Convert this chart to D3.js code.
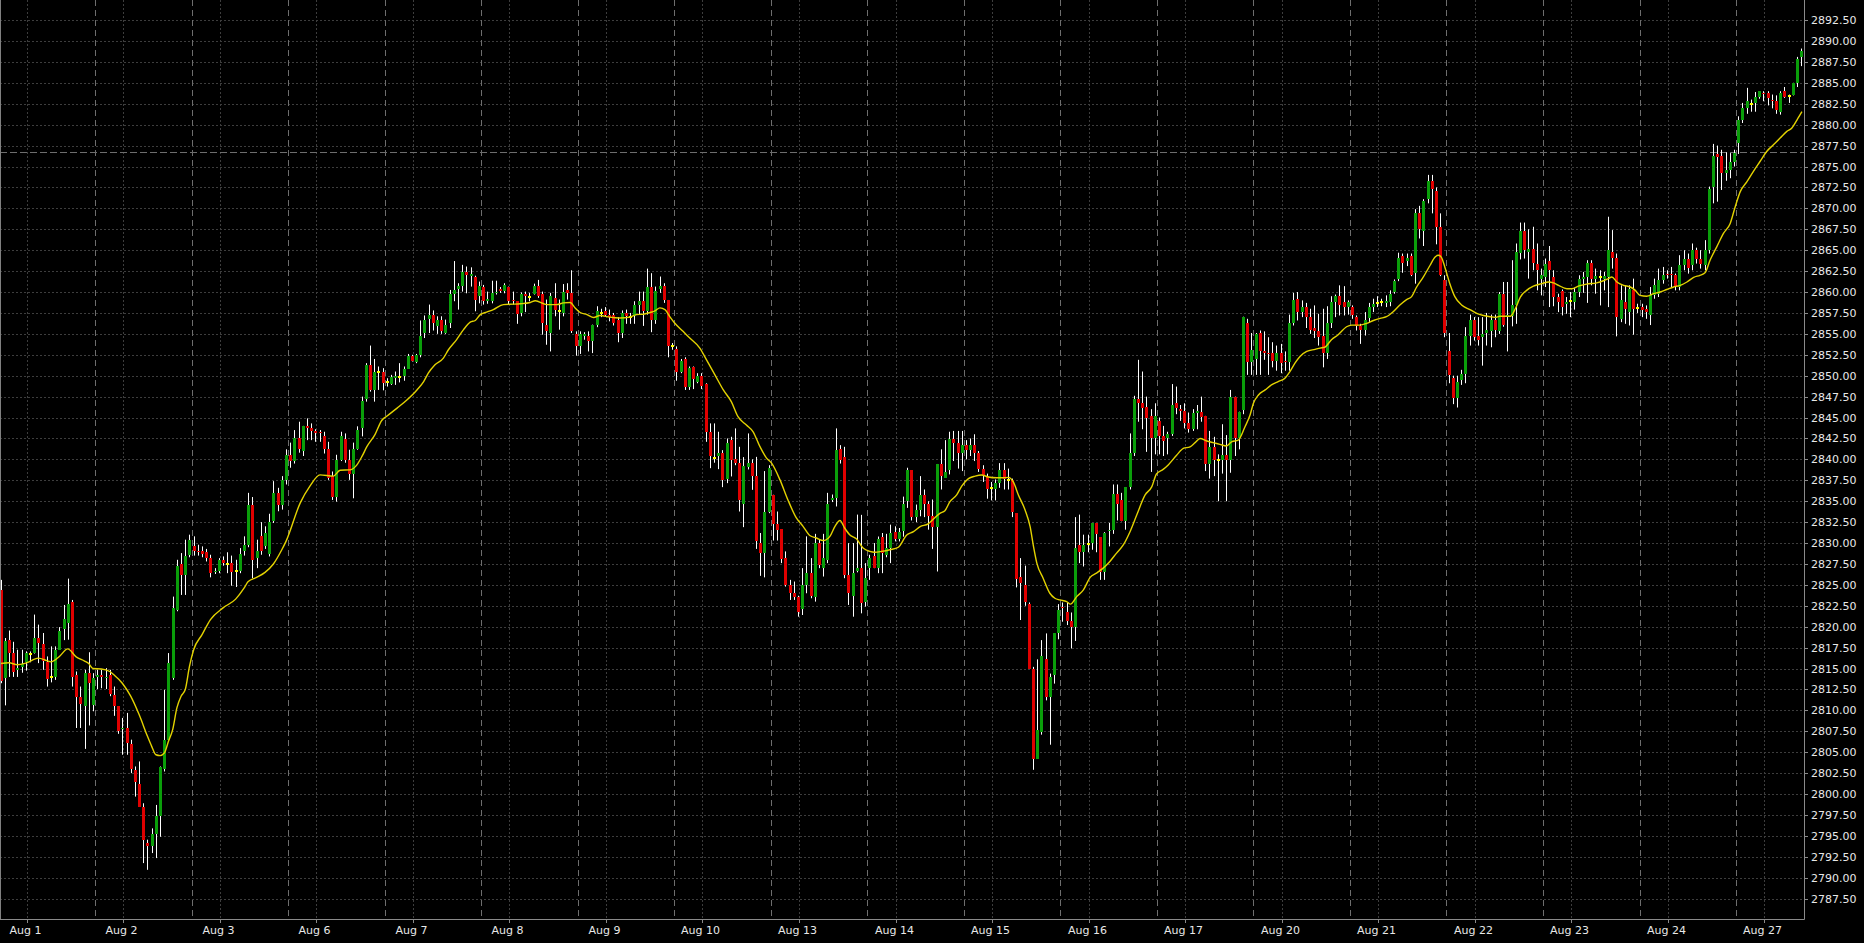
<!DOCTYPE html>
<html><head><meta charset="utf-8">
<script src="https://cdn.jsdelivr.net/npm/d3@7"></script>
<style>html,body{margin:0;padding:0;background:#000;overflow:hidden}</style>
</head><body><svg id="c" width="1864" height="943"></svg>
<script>
// ---- OHLC data (hourly bars) ----
const openP = [
2824.4,2813.9,2818.45,2816.8,2814.8,2815.2,2815.75,2816.7,2816.8,2818.7,
2817.95,2815.75,2813.95,2814.05,2817.25,2819.7,2820.45,2823.0,2814.25,2811.55,
2810.5,2814.45,2810.7,2813.95,2814.25,2813.85,2814.25,2811.8,2810.5,2807.75,
2807.9,2806.0,2802.9,2801.2,2798.45,2794.2,2793.75,2795.25,2797.4,2803.05,
2806.5,2813.85,2822.05,2827.5,2826.2,2828.6,2829.6,2829.1,2829.0,2828.9,
2828.2,2826.5,2826.7,2828.0,2827.45,2827.6,2826.6,2826.7,2829.0,2829.8,
2834.5,2828.2,2830.8,2829.6,2828.7,2832.6,2836.0,2834.5,2837.5,2840.5,
2839.8,2842.5,2841.0,2844.0,2843.7,2843.35,2843.3,2842.8,2841.2,2838.0,
2835.55,2839.95,2842.45,2839.95,2838.3,2841.2,2843.75,2847.25,2851.3,2848.3,
2850.4,2850.4,2849.2,2849.05,2849.75,2849.9,2850.0,2850.85,2852.3,2851.6,
2852.5,2855.1,2856.8,2857.3,2855.95,2856.6,2855.1,2856.35,2859.8,2860.35,
2860.75,2862.35,2861.9,2861.85,2859.55,2860.6,2858.9,2858.9,2859.85,2860.35,
2860.1,2860.6,2859.05,2858.9,2857.45,2859.75,2859.4,2859.8,2860.75,2859.8,
2856.1,2855.1,2859.3,2857.7,2857.55,2860.25,2859.85,2855.0,2853.55,2854.8,
2854.75,2854.1,2856.1,2857.5,2857.75,2857.3,2857.3,2856.7,2855.1,2857.55,
2857.0,2857.15,2858.5,2858.9,2857.7,2860.55,2856.6,2860.35,2860.75,2859.05,
2853.5,2853.2,2850.5,2852.0,2848.6,2851.0,2849.3,2850.0,2849.0,2843.3,
2840.2,2840.35,2840.75,2837.64,2842.26,2840.03,2839.55,2834.69,2839.07,2839.55,
2838.04,2830.0,2828.8,2833.77,2835.77,2832.3,2831.66,2828.2,2825.0,2824.0,
2823.54,2822.1,2825.0,2826.48,2823.54,2829.99,2827.0,2828.0,2835.17,2835.37,
2841.2,2840.27,2826.2,2823.7,2826.7,2827.0,2823.0,2827.0,2828.48,2827.0,
2830.78,2828.6,2829.39,2831.38,2830.47,2831.44,2835.07,2838.73,2833.08,2833.95,
2835.75,2834.67,2833.24,2831.96,2839.45,2837.8,2838.73,2842.4,2841.9,2840.8,
2841.7,2841.1,2841.7,2840.8,2838.9,2838.0,2836.6,2836.5,2837.2,2838.73,
2837.5,2837.5,2833.55,2825.9,2825.0,2822.7,2815.0,2804.2,2807.45,2816.1,
2811.6,2814.2,2819.2,2822.4,2821.8,2820.7,2820.0,2829.8,2828.97,2829.9,
2829.97,2832.4,2830.7,2826.5,2831.4,2831.6,2835.9,2835.1,2832.6,2836.7,
2840.8,2847.2,2846.7,2846.2,2845.2,2842.5,2844.6,2842.8,2842.5,2843.0,
2846.7,2846.0,2845.8,2844.3,2843.6,2845.6,2845.7,2845.2,2839.5,2841.5,
2839.9,2839.9,2840.5,2839.9,2847.5,2842.5,2845.9,2856.3,2851.6,2852.0,
2855.05,2853.0,2852.7,2852.7,2851.8,2852.7,2851.8,2851.6,2856.25,2859.2,
2857.6,2858.2,2857.05,2855.7,2855.3,2854.7,2852.7,2856.3,2858.8,2859.5,
2858.8,2858.2,2858.2,2857.05,2855.9,2855.45,2856.85,2858.2,2858.7,2858.75,
2858.65,2858.8,2860.0,2861.6,2864.3,2863.7,2864.3,2862.3,2869.4,2867.3,
2871.1,2873.3,2872.1,2867.8,2861.4,2852.9,2849.7,2847.3,2849.5,2850.2,
2854.7,2856.6,2854.7,2854.6,2855.05,2855.3,2856.6,2855.3,2859.8,2857.0,
2857.1,2858.4,2864.7,2867.3,2864.8,2865.2,2863.4,2861.6,2861.8,2863.7,
2861.8,2859.4,2860.1,2858.6,2858.95,2858.8,2860.0,2861.6,2861.8,2863.5,
2861.6,2861.75,2861.6,2861.8,2864.8,2864.1,2856.8,2858.8,2857.6,2860.2,
2858.1,2858.2,2858.0,2857.2,2859.6,2859.8,2861.4,2862.2,2862.2,2862.0,
2860.6,2863.2,2864.0,2863.2,2865.0,2864.0,2863.2,2865.0,2872.6,2876.5,
2876.25,2874.26,2874.58,2875.57,2877.85,2880.55,2881.95,2882.45,2882.55,2883.35,
2883.8,2883.8,2883.0,2882.86,2881.55,2884.0,2883.46,2883.5,2885.0,2888.1
];
const highP = [
2825.6,2818.65,2819.55,2818.2,2817.25,2817.25,2817.05,2817.05,2821.45,2820.25,
2819.25,2816.45,2817.65,2817.65,2819.95,2822.6,2825.75,2823.2,2814.65,2812.85,
2814.85,2816.95,2814.45,2814.85,2814.85,2815.05,2814.85,2812.85,2810.5,2809.1,
2809.7,2806.5,2803.3,2803.9,2798.9,2794.55,2795.9,2798.7,2803.3,2812.45,
2816.85,2823.6,2828.0,2828.8,2830.4,2831.0,2830.8,2829.8,2829.6,2829.3,
2828.6,2827.0,2828.2,2828.4,2828.9,2828.5,2828.0,2829.4,2830.8,2836.0,
2835.5,2830.4,2832.5,2832.0,2833.5,2837.4,2836.6,2838.0,2841.2,2842.0,
2843.5,2844.5,2844.0,2844.9,2844.3,2843.6,2843.5,2843.3,2842.1,2838.55,
2840.55,2843.3,2843.1,2841.15,2842.0,2843.95,2847.5,2851.5,2853.6,2852.0,
2851.1,2850.9,2849.7,2850.1,2850.5,2851.5,2851.1,2852.6,2852.5,2852.6,
2856.6,2857.2,2858.5,2857.8,2857.1,2857.1,2856.7,2860.25,2863.7,2861.05,
2863.25,2863.05,2862.95,2861.95,2861.25,2860.85,2860.05,2861.35,2861.35,2860.6,
2861.05,2860.65,2860.05,2858.9,2859.95,2860.05,2859.9,2861.0,2861.45,2860.05,
2859.1,2859.9,2861.05,2859.1,2860.95,2861.05,2862.6,2855.3,2855.3,2855.2,
2855.3,2856.1,2858.3,2858.0,2858.2,2857.9,2857.5,2857.0,2857.8,2857.9,
2857.5,2858.9,2860.05,2860.05,2862.8,2862.25,2860.65,2861.85,2861.05,2859.05,
2853.9,2853.5,2852.0,2852.2,2851.1,2851.1,2850.3,2850.3,2849.1,2844.3,
2844.3,2843.3,2841.1,2842.5,2842.7,2843.7,2841.5,2840.27,2843.1,2840.0,
2840.3,2831.2,2838.6,2839.3,2835.77,2833.77,2831.66,2829.0,2825.6,2825.4,
2823.7,2827.0,2830.8,2828.2,2831.1,2830.4,2831.1,2836.0,2835.8,2843.7,
2841.7,2841.5,2829.99,2830.0,2833.4,2833.37,2827.6,2828.6,2830.0,2830.78,
2831.2,2831.1,2832.2,2832.0,2831.8,2835.55,2839.0,2838.73,2834.6,2838.0,
2836.4,2835.0,2835.2,2839.45,2841.2,2842.3,2843.3,2843.4,2843.4,2843.4,
2842.3,2842.5,2843.0,2841.0,2839.3,2838.3,2837.3,2837.6,2839.55,2839.55,
2838.9,2837.7,2833.55,2828.2,2827.3,2822.9,2815.2,2816.1,2818.4,2819.2,
2814.4,2819.2,2822.7,2822.9,2822.9,2821.7,2833.1,2833.4,2831.0,2831.0,
2832.4,2832.4,2830.7,2831.3,2832.4,2837.0,2837.0,2836.0,2836.7,2843.1,
2847.6,2851.9,2850.5,2847.5,2846.0,2846.7,2845.0,2844.0,2843.3,2849.0,
2848.7,2846.5,2846.7,2845.6,2846.0,2846.5,2847.5,2845.2,2843.4,2842.7,
2840.6,2844.2,2842.9,2848.3,2847.5,2845.7,2857.05,2856.8,2855.1,2855.1,
2855.4,2855.3,2854.6,2854.0,2853.6,2853.8,2852.9,2857.3,2859.9,2860.0,
2859.0,2858.7,2858.0,2858.4,2857.4,2858.0,2858.3,2859.5,2859.7,2860.8,
2860.7,2859.0,2858.4,2857.2,2856.2,2857.6,2858.7,2859.2,2859.5,2859.2,
2859.6,2860.2,2861.5,2864.7,2864.6,2864.6,2864.6,2869.9,2870.3,2871.1,
2874.0,2874.0,2872.5,2869.4,2862.0,2855.1,2850.0,2850.0,2850.7,2855.8,
2857.3,2857.0,2857.0,2857.0,2857.5,2857.3,2857.3,2860.0,2861.2,2861.2,
2863.8,2865.8,2868.3,2868.3,2867.5,2867.8,2865.8,2862.8,2864.0,2865.5,
2862.6,2859.8,2860.3,2859.4,2860.0,2860.5,2862.0,2862.4,2863.8,2863.8,
2862.8,2862.6,2862.4,2869.0,2867.4,2864.6,2860.8,2860.8,2860.8,2861.6,
2858.6,2858.6,2858.4,2860.6,2861.6,2862.8,2863.0,2862.6,2863.0,2862.2,
2864.4,2865.0,2864.6,2865.8,2865.3,2865.0,2866.2,2872.6,2877.7,2877.5,
2877.0,2876.7,2876.6,2877.0,2881.0,2882.6,2884.4,2883.0,2883.9,2884.0,
2884.0,2884.0,2883.6,2883.5,2884.0,2884.5,2883.6,2885.0,2888.1,2889.1
];
const lowP = [
2813.25,2810.6,2814.0,2814.0,2814.0,2814.5,2814.75,2815.75,2816.8,2815.65,
2814.85,2812.85,2813.35,2813.65,2817.25,2818.4,2818.45,2812.85,2807.9,2807.9,
2805.4,2808.2,2809.9,2812.55,2812.65,2812.55,2811.7,2809.35,2807.2,2804.7,
2804.7,2802.5,2799.7,2798.5,2791.75,2790.95,2792.95,2792.35,2794.9,2802.7,
2806.5,2813.65,2821.85,2823.8,2823.8,2828.3,2828.5,2828.5,2828.3,2827.8,
2825.9,2826.3,2826.4,2827.3,2826.4,2824.9,2824.75,2826.4,2828.5,2829.5,
2825.8,2827.0,2828.6,2829.3,2828.4,2832.4,2833.8,2834.0,2837.0,2839.0,
2839.5,2840.8,2840.4,2842.3,2842.3,2842.1,2842.1,2840.7,2837.55,2835.15,
2834.95,2839.8,2839.6,2837.55,2835.35,2841.15,2842.75,2846.9,2848.1,2846.9,
2848.3,2848.25,2848.7,2848.9,2848.9,2849.2,2849.4,2850.85,2851.7,2851.5,
2852.2,2854.5,2855.1,2855.4,2855.0,2855.0,2855.0,2855.7,2858.9,2857.9,
2860.05,2859.85,2860.65,2857.7,2858.65,2858.5,2858.6,2858.65,2859.7,2859.9,
2859.85,2858.5,2858.5,2856.2,2857.1,2857.6,2858.9,2859.7,2859.3,2854.9,
2853.7,2852.9,2857.1,2855.5,2857.1,2859.1,2855.1,2852.4,2852.6,2854.3,
2852.9,2852.7,2855.8,2857.0,2857.1,2856.5,2856.0,2854.0,2854.5,2856.2,
2856.2,2856.2,2857.3,2855.95,2857.3,2855.2,2856.2,2859.9,2858.7,2852.2,
2853.1,2849.4,2850.3,2848.3,2848.3,2848.4,2849.1,2848.4,2842.1,2838.95,
2839.6,2838.83,2836.68,2837.16,2837.96,2839.3,2833.77,2831.9,2838.8,2836.36,
2829.3,2826.08,2825.9,2833.57,2830.3,2830.3,2827.6,2824.8,2823.2,2823.2,
2821.2,2821.4,2824.0,2823.4,2823.0,2827.0,2826.0,2827.6,2834.9,2834.37,
2839.5,2825.8,2822.6,2821.2,2826.5,2821.6,2822.4,2825.6,2827.0,2826.4,
2826.4,2828.3,2827.6,2830.2,2830.2,2830.76,2834.2,2832.7,2832.5,2833.2,
2833.1,2831.6,2829.3,2826.6,2836.4,2837.8,2838.2,2839.8,2838.9,2838.6,
2840.0,2840.4,2839.8,2838.5,2837.3,2835.3,2835.1,2835.1,2836.6,2836.4,
2836.4,2833.1,2824.7,2820.8,2822.5,2815.0,2802.9,2804.2,2807.1,2811.2,
2805.9,2813.2,2818.5,2820.6,2820.2,2817.4,2818.3,2827.6,2827.2,2828.9,
2829.2,2828.9,2825.6,2825.6,2829.6,2831.1,2832.7,2832.6,2831.6,2836.4,
2840.4,2844.5,2843.6,2840.9,2838.5,2840.6,2840.6,2840.4,2840.6,2842.8,
2845.4,2844.6,2843.7,2843.2,2843.4,2843.6,2844.5,2838.6,2837.7,2838.0,
2835.0,2838.3,2835.0,2838.4,2840.4,2841.2,2845.4,2850.1,2850.1,2850.1,
2850.1,2851.9,2850.1,2851.0,2850.6,2850.3,2850.6,2850.6,2856.0,2856.6,
2857.0,2855.7,2855.0,2854.5,2853.6,2851.0,2852.0,2855.7,2857.0,2857.2,
2857.2,2857.3,2856.8,2855.4,2853.8,2854.8,2856.3,2857.6,2858.2,2858.3,
2858.2,2858.3,2859.8,2861.3,2862.3,2863.1,2861.9,2861.0,2866.4,2865.5,
2870.6,2869.4,2865.7,2861.9,2854.6,2849.1,2846.6,2846.2,2848.9,2849.1,
2853.6,2854.2,2853.6,2851.2,2853.6,2853.4,2854.6,2855.0,2855.85,2852.9,
2855.9,2856.2,2863.9,2864.0,2861.6,2862.6,2860.2,2859.6,2860.6,2858.2,
2858.3,2857.6,2857.2,2857.4,2857.0,2857.9,2859.4,2859.9,2858.7,2860.8,
2859.8,2858.4,2860.2,2858.2,2862.8,2854.7,2856.4,2856.2,2856.0,2854.9,
2857.5,2857.0,2856.8,2856.05,2859.2,2859.4,2861.0,2861.6,2860.6,2860.2,
2860.2,2862.6,2862.2,2862.6,2863.4,2862.8,2862.6,2864.6,2870.6,2870.8,
2872.2,2873.3,2873.6,2875.0,2876.5,2880.2,2881.3,2881.55,2881.55,2883.1,
2882.8,2882.3,2881.95,2881.3,2881.2,2883.2,2882.6,2883.5,2884.5,2887.0
];
const closeP = [
2813.5,2818.25,2816.85,2814.55,2815.1,2815.5,2816.8,2816.7,2818.7,2818.0,
2815.85,2813.8,2813.95,2817.25,2819.5,2820.95,2822.75,2814.05,2811.6,2810.75,
2814.45,2813.25,2813.85,2814.25,2814.05,2814.05,2812.0,2810.5,2807.5,2807.95,
2806.1,2803.0,2801.5,2798.5,2794.55,2793.75,2795.25,2797.4,2803.2,2806.5,
2815.65,2822.25,2827.3,2826.2,2828.5,2830.4,2829.1,2828.9,2828.7,2828.2,
2826.4,2826.7,2828.0,2827.6,2827.45,2826.5,2826.6,2828.7,2829.8,2834.5,
2828.0,2829.0,2829.0,2831.2,2832.5,2836.0,2834.5,2837.5,2840.5,2839.8,
2842.5,2841.2,2844.0,2843.8,2843.35,2843.15,2843.1,2841.2,2837.75,2835.55,
2839.95,2842.8,2839.95,2838.3,2841.2,2843.55,2847.0,2851.3,2848.3,2850.5,
2850.4,2849.1,2849.2,2849.8,2850.0,2849.9,2850.85,2852.3,2851.8,2852.5,
2854.75,2856.7,2857.3,2856.35,2856.6,2855.3,2856.1,2859.8,2860.25,2860.75,
2862.35,2862.05,2862.1,2859.05,2860.75,2858.9,2859.15,2859.85,2860.05,2860.1,
2860.8,2858.9,2858.9,2857.35,2859.8,2859.55,2859.4,2860.75,2859.55,2856.35,
2855.3,2859.5,2857.9,2857.7,2860.05,2859.85,2855.3,2853.55,2855.0,2855.0,
2854.1,2856.1,2857.75,2857.5,2857.3,2857.0,2856.35,2855.1,2857.55,2857.1,
2857.0,2858.5,2858.9,2857.7,2860.55,2856.6,2860.15,2860.75,2859.05,2853.6,
2853.5,2850.5,2851.8,2848.6,2850.9,2849.6,2850.0,2848.8,2843.3,2840.35,
2840.2,2840.8,2837.56,2842.0,2839.95,2839.55,2835.09,2839.23,2839.55,2838.04,
2830.3,2828.8,2833.77,2838.95,2832.3,2831.5,2828.08,2825.0,2824.0,2823.54,
2821.8,2825.0,2826.4,2823.7,2829.99,2827.4,2828.2,2834.69,2835.37,2841.07,
2839.95,2826.2,2824.0,2826.48,2827.0,2822.8,2825.8,2828.2,2827.0,2830.47,
2828.8,2829.39,2831.18,2830.47,2831.38,2834.67,2838.73,2833.08,2833.95,2835.75,
2834.67,2833.24,2831.96,2839.45,2838.06,2838.5,2842.4,2841.9,2840.8,2841.7,
2841.1,2841.7,2840.8,2838.9,2838.1,2836.5,2836.6,2837.2,2838.73,2837.6,
2837.5,2833.75,2825.7,2825.2,2823.0,2815.0,2804.2,2807.65,2816.5,2811.6,
2814.0,2819.2,2822.0,2822.2,2820.7,2820.0,2829.4,2828.97,2829.8,2829.9,
2832.4,2831.1,2826.5,2831.2,2831.6,2835.9,2834.67,2832.6,2836.7,2840.8,
2847.2,2846.7,2846.1,2845.0,2842.5,2845.2,2842.8,2842.2,2843.0,2846.5,
2846.1,2845.8,2844.3,2843.6,2845.5,2845.8,2845.1,2839.5,2841.5,2839.9,
2839.9,2840.5,2839.9,2847.5,2842.5,2845.7,2857.05,2851.6,2853.1,2855.0,
2852.9,2852.7,2852.6,2851.8,2852.7,2851.5,2851.6,2856.25,2859.0,2857.6,
2858.2,2857.05,2855.5,2855.3,2854.6,2852.7,2856.3,2858.8,2859.5,2858.4,
2858.2,2858.8,2857.25,2855.9,2855.5,2856.7,2858.2,2858.6,2858.7,2858.75,
2858.95,2859.8,2861.35,2864.1,2863.5,2864.1,2862.0,2869.4,2867.5,2870.9,
2873.3,2872.3,2867.8,2862.0,2855.05,2850.1,2847.3,2849.3,2850.2,2854.7,
2856.6,2854.6,2854.3,2855.0,2855.45,2856.6,2855.5,2859.8,2856.05,2857.2,
2858.4,2864.8,2867.3,2865.0,2865.2,2863.5,2862.6,2862.0,2863.4,2862.6,
2859.4,2858.8,2858.2,2858.8,2858.95,2860.0,2861.6,2861.8,2863.5,2861.6,
2861.95,2861.75,2861.95,2865.0,2864.1,2857.0,2859.0,2858.0,2860.4,2858.0,
2858.1,2857.8,2857.6,2859.6,2860.8,2861.4,2862.0,2862.0,2862.0,2860.7,
2863.2,2864.0,2862.9,2865.0,2864.0,2863.4,2865.0,2872.27,2876.25,2876.1,
2874.26,2874.58,2875.57,2876.65,2880.55,2881.95,2882.8,2882.45,2883.35,2884.0,
2883.66,2883.14,2882.86,2881.75,2883.8,2883.35,2883.46,2885.0,2887.85,2888.8
];

// ---- Moving average (yellow line): bar position / value ----
const maBar = [
0,2,4,6,9,11,12,14,16,18,20,21,22,24,26,27,29,31,33,35,36,37,38,39,40,41,42,43,44,45,46,48,50,53,56,58,59,61,63,65,67,68,
71.4,73.7,76.1,79.3,80.9,83.3,84.9,86.1,87.3,89.2,90.8,92.0,94.4,96.8,99.2,100.8,101.9,103.5,105.5,106.7,108.7,110.3,111.9,113.1,114.3,115.8,117.4,119.8,122.2,123.8,126.2,127.4,130.1,132.5,134.1,135.7,136.9,138.1,139.7,141.3,142.8,
145.1,147.5,149.9,151.5,153.1,154.7,155.9,157.1,158.3,159.4,160.6,162.6,164.2,166.6,168.2,170.2,172.2,174.1,175.7,177.7,179.3,180.9,182.5,183.7,185.7,187.6,189.6,191.2,192.8,194.4,196.0,197.6,198.8,200.0,201.1,202.3,203.9,205.5,207.1,208.3,209.9,211.9,213.9,
215.9,217.5,219.1,221.0,222.2,223.8,225.0,226.2,227.8,229.0,230.6,232.2,233.7,235.3,237.3,238.9,240.1,241.3,242.5,244.1,245.3,246.1,246.9,248.4,250.0,251.2,252.4,254.0,254.9,256.4,258.0,259.6,261.1,262.7,264.3,265.9,267.5,269.1,270.7,272.7,274.3,275.4,277.0,278.2,280.2,281.8,283.4,284.6,285.8,
287.4,288.9,290.5,292.1,293.3,294.9,296.5,297.7,298.5,299.7,301.3,302.8,304.4,306.0,307.2,308.4,309.6,311.2,313.2,314.4,315.5,317.1,318.7,320.7,321.9,323.9,325.5,327.1,328.7,330.2,331.8,333.4,335.0,336.2,337.4,339.0,340.6,341.8,342.6,343.3,344.1,345.3,346.5,348.1,350.1,351.7,353.3,354.9,356.1,357.2,
359.7,360.9,362.1,363.6,365.2,367.2,368.8,370.0,371.2,373.2,374.4,375.9,377.9,380.3,381.9,383.1,383.9,385.1,386.7,388.3,389.5,390.6,392.2,393.8,395.4,397.0,398.6,400.2,401.8,403.4,404.9,406.1,407.3,408.9,410.5,412.1,413.3,414.5,416.1,417.6,419.2,420.8,422.4,424.0,425.6,426.8,428.0,429.2
];
const maValue = [
2815.6,2815.7,2815.45,2815.65,2816.25,2815.95,2815.8,2816.45,2817.35,2816.4,2815.9,2815.6,2815.0,2814.95,2814.65,2814.25,2813.25,2811.7,2809.5,2806.9,2805.7,2804.7,2804.6,2804.9,2806.3,2807.7,2810.3,2811.7,2812.5,2815.25,2817.25,2819.05,2820.85,2822.25,2823.3,2824.6,2825.4,2825.9,2826.5,2827.5,2829.2,2830.2,
2834.8,2836.8,2838.15,2838.0,2838.7,2838.75,2839.35,2840.35,2841.55,2842.95,2844.65,2845.15,2846.1,2847.1,2848.3,2849.3,2850.3,2851.3,2852.1,2853.1,2854.35,2855.5,2856.4,2856.6,2857.3,2857.6,2857.9,2858.5,2858.55,2858.6,2858.75,2858.95,2858.5,2858.5,2858.7,2858.75,2858.1,2857.55,2857.3,2856.95,2857.2,
2857.0,2856.9,2857.0,2857.3,2857.35,2857.55,2857.75,2858.1,2857.9,2857.1,2856.3,2855.3,2854.5,2853.3,2851.9,2850.1,2848.3,2846.9,2845.1,2844.1,2843.3,2841.55,2840.15,2839.55,2837.55,2835.15,2833.0,2832.0,2830.9,2830.6,2830.3,2830.8,2832.0,2832.7,2831.8,2831.0,2830.5,2829.4,2829.0,2828.9,2829.0,2829.2,2829.5,
2830.96,2831.36,2831.96,2832.3,2832.84,2833.55,2833.87,2834.95,2835.75,2836.8,2837.7,2838.0,2838.14,2837.9,2837.8,2837.8,2837.85,2837.3,2835.75,2833.95,2831.96,2829.6,2827.6,2825.8,2824.0,2823.4,2823.2,2823.0,2822.7,2823.6,2824.4,2825.9,2826.4,2827.0,2827.8,2828.8,2829.77,2831.36,2833.35,2835.75,2836.74,2838.25,2838.8,2839.33,2840.5,2841.3,2841.5,2842.0,2842.5,
2842.2,2842.0,2841.8,2841.6,2842.1,2842.3,2843.9,2845.3,2846.7,2847.7,2848.3,2848.9,2849.3,2849.7,2850.5,2851.5,2852.3,2852.9,2853.15,2853.3,2853.4,2854.3,2854.9,2855.85,2856.05,2856.05,2856.25,2856.6,2856.85,2857.05,2857.65,2858.45,2859.1,2859.45,2860.6,2861.8,2863.2,2864.2,2864.4,2864.15,2863.0,2861.0,2859.45,2858.45,2857.9,2857.45,2857.2,2857.05,2856.97,2857.1,
2857.1,2858.0,2859.4,2860.2,2860.7,2861.0,2861.2,2861.1,2860.8,2860.4,2860.4,2860.7,2860.95,2861.1,2861.35,2861.6,2861.8,2861.2,2860.8,2860.6,2860.2,2859.6,2859.5,2859.8,2860.0,2860.3,2860.6,2860.8,2861.2,2861.75,2862.0,2862.3,2863.8,2865.4,2867.0,2868.2,2870.2,2872.0,2873.2,2874.4,2875.6,2876.8,2877.6,2878.4,2879.2,2879.6,2880.55,2881.55
];

// ---- Axis labels ----
const dayLabels = ["Aug 1","Aug 2","Aug 3","Aug 6","Aug 7","Aug 8","Aug 9","Aug 10","Aug 13","Aug 14","Aug 15","Aug 16","Aug 17","Aug 20","Aug 21","Aug 22","Aug 23","Aug 24","Aug 27"];
const dayLabelBar = [6,29,52,75,98,121,144,167,190,213,236,259,282,305,328,351,374,397,420];
const sessionStartBar = [23,46,69,92,115,138,161,184,207,230,253,276,299,322,345,368,391,414];
const priceTicks = [2787.5,2790,2792.5,2795,2797.5,2800,2802.5,2805,2807.5,2810,2812.5,2815,2817.5,2820,2822.5,2825,2827.5,2830,2832.5,2835,2837.5,2840,2842.5,2845,2847.5,2850,2852.5,2855,2857.5,2860,2862.5,2865,2867.5,2870,2872.5,2875,2877.5,2880,2882.5,2885,2887.5,2890,2892.5];
const refLine = 2876.75;

// ---- Drawing ----
const N = closeP.length;
const plotRight = 1804, plotBottom = 919;
const svg = d3.select("#c");
svg.append("rect").attr("width",1864).attr("height",943).attr("fill","#000");

const x = d3.scaleLinear().domain([0, N]).range([-1.5, -1.5 + N*4.197]);
const y = d3.scaleLinear().domain([2785.07, 2894.9]).range([plotBottom, 0]);

svg.append("defs").append("clipPath").attr("id","pc")
  .append("rect").attr("x",0).attr("y",0).attr("width",plotRight).attr("height",plotBottom);

const grid = svg.append("g").attr("clip-path","url(#pc)");
// horizontal dotted grid
grid.selectAll("line.h").data(priceTicks).join("line")
  .attr("x1",0).attr("x2",plotRight)
  .attr("y1",d=>Math.round(y(d))+0.5).attr("y2",d=>Math.round(y(d))+0.5)
  .attr("stroke","#3d3d3d").attr("stroke-dasharray","2,2");
// vertical dotted grid at day labels
grid.selectAll("line.v").data(dayLabelBar).join("line")
  .attr("x1",d=>Math.round(x(d+0.5)+1)+0.5).attr("x2",d=>Math.round(x(d+0.5)+1)+0.5)
  .attr("y1",0).attr("y2",plotBottom)
  .attr("stroke","#3d3d3d").attr("stroke-dasharray","2,2");
// session separators (dashed)
grid.selectAll("line.s").data(sessionStartBar).join("line")
  .attr("x1",d=>Math.round(x(d))+0.5).attr("x2",d=>Math.round(x(d))+0.5)
  .attr("y1",0).attr("y2",plotBottom)
  .attr("stroke","#6e6e6e").attr("stroke-dasharray","6,4");
// horizontal reference line (dashed)
grid.append("line").attr("x1",0).attr("x2",plotRight)
  .attr("y1",Math.round(y(refLine))+0.5).attr("y2",Math.round(y(refLine))+0.5)
  .attr("stroke","#6e6e6e").attr("stroke-dasharray","7,3");

// candles
const bars = d3.range(N).map(i=>({i,o:openP[i],h:Math.max(highP[i],openP[i],closeP[i]),l:Math.min(lowP[i],openP[i],closeP[i]),c:closeP[i]}));
const cg = svg.append("g").attr("clip-path","url(#pc)");
const cnd = cg.selectAll("g").data(bars).join("g");
cnd.append("line")
  .attr("x1",d=>Math.round(x(d.i+0.5))+0.5).attr("x2",d=>Math.round(x(d.i+0.5))+0.5)
  .attr("y1",d=>y(d.h)).attr("y2",d=>y(d.l))
  .attr("stroke","#ffffff").attr("stroke-width",1);
cnd.append("rect")
  .attr("x",d=>Math.round(x(d.i+0.5))-1)
  .attr("width",3)
  .attr("y",d=> d.o===d.c ? Math.round(y(d.o))-1 : Math.round(y(Math.max(d.o,d.c))))
  .attr("height",d=> d.o===d.c ? 2 : Math.max(1, Math.round(y(Math.min(d.o,d.c))) - Math.round(y(Math.max(d.o,d.c)))))
  .attr("fill",d=> d.c>d.o ? "#0a9e0a" : (d.c<d.o ? "#e00000" : "#ffff00"));

// moving average
const maPts = maBar.map((b,k)=>({b, v:maValue[k]}));
cg.append("path").datum(maPts)
  .attr("fill","none").attr("stroke","#e3d200").attr("stroke-width",1.4)
  .attr("d", d3.line().x(d=>x(d.b+0.5)).y(d=>y(d.v)).curve(d3.curveMonotoneX));

// axes frame
svg.append("line").attr("x1",0.5).attr("x2",0.5).attr("y1",0).attr("y2",plotBottom+0.5).attr("stroke","#808080");
svg.append("line").attr("x1",plotRight+0.5).attr("x2",plotRight+0.5).attr("y1",0).attr("y2",plotBottom+0.5).attr("stroke","#8a8a8a");
svg.append("line").attr("x1",0).attr("x2",plotRight+0.5).attr("y1",plotBottom+0.5).attr("y2",plotBottom+0.5).attr("stroke","#8a8a8a");

// y ticks + labels
const yl = svg.append("g");
yl.selectAll("line").data(priceTicks).join("line")
  .attr("x1",plotRight+1).attr("x2",plotRight+4)
  .attr("y1",d=>Math.round(y(d))+0.5).attr("y2",d=>Math.round(y(d))+0.5)
  .attr("stroke","#8a8a8a");
yl.selectAll("text").data(priceTicks).join("text")
  .attr("x",1811).attr("y",d=>y(d)+4)
  .attr("fill","#e8e8e8").attr("font-family","DejaVu Sans, sans-serif").attr("font-size",11)
  .text(d=>d3.format(".2f")(d));

// x ticks + labels
const xl = svg.append("g");
xl.selectAll("line").data(dayLabelBar).join("line")
  .attr("x1",d=>Math.round(x(d+0.5)+1)+0.5).attr("x2",d=>Math.round(x(d+0.5)+1)+0.5)
  .attr("y1",plotBottom+1).attr("y2",plotBottom+4).attr("stroke","#8a8a8a");
xl.selectAll("text").data(dayLabels).join("text")
  .attr("x",(d,k)=>Math.round(x(dayLabelBar[k]+0.5)+1)-1.5).attr("y",934)
  .attr("text-anchor","middle")
  .attr("fill","#e8e8e8").attr("font-family","DejaVu Sans, sans-serif").attr("font-size",11)
  .text(d=>d);
</script>
</body></html>
